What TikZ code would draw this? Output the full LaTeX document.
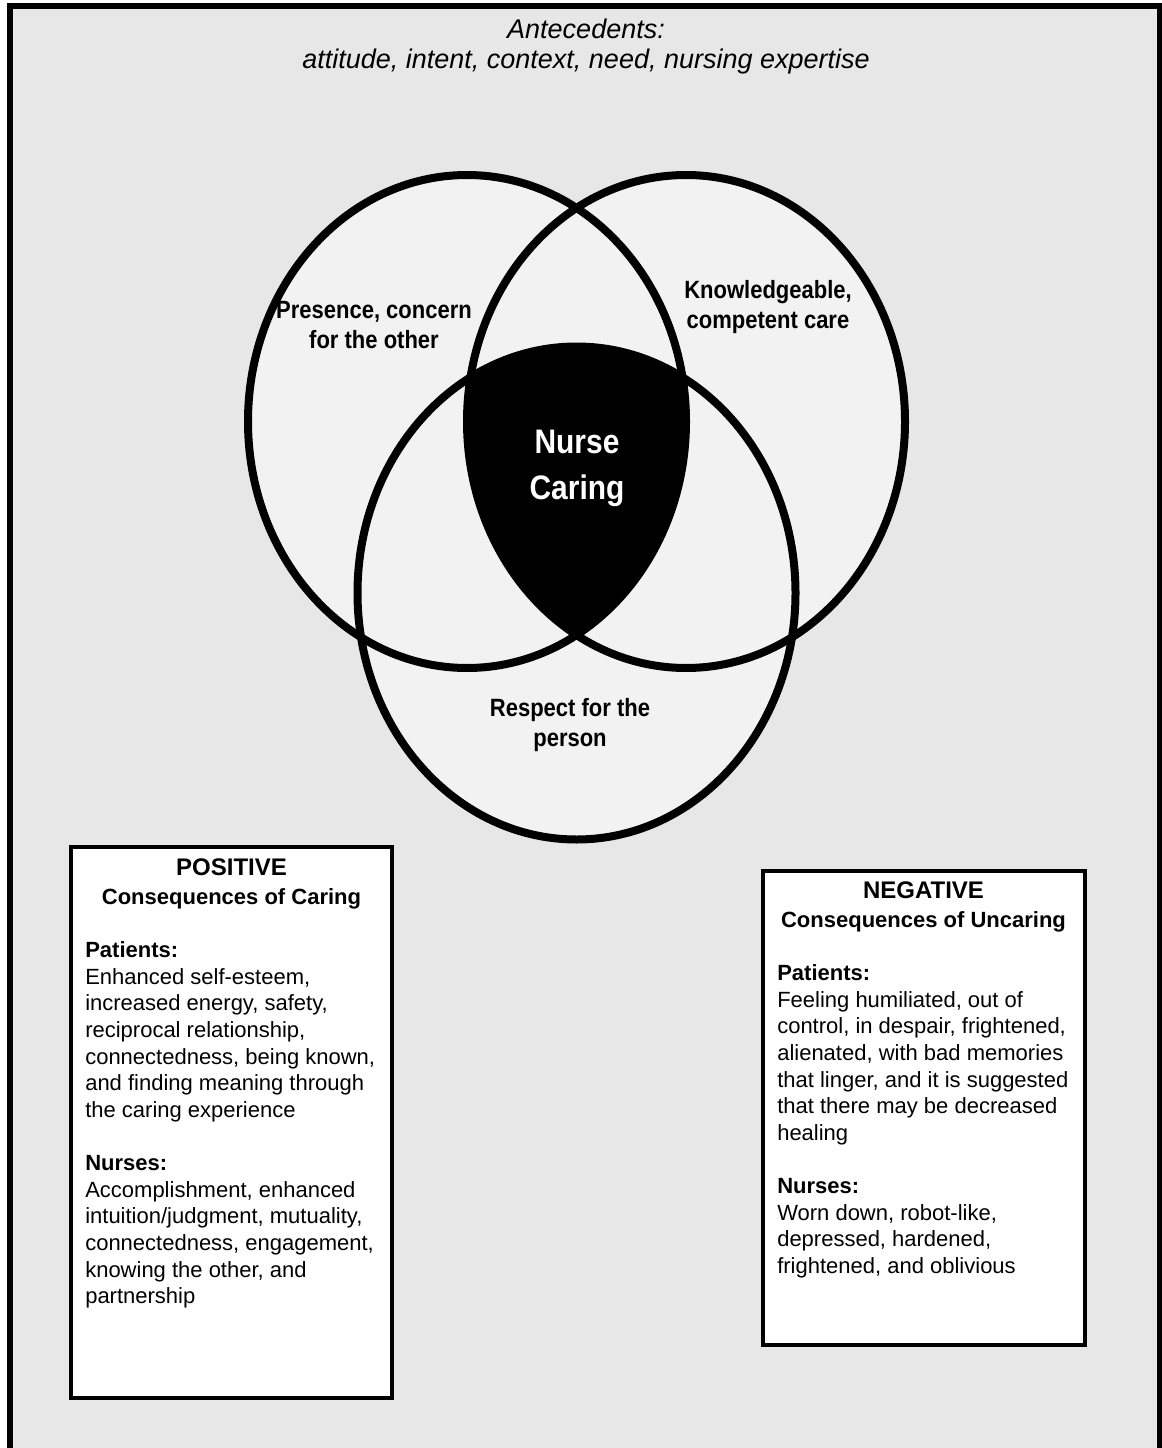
\documentclass[tikz,border=0pt]{standalone}
\usepackage{fontspec}
\setmainfont{Liberation Sans}
\newfontfamily\condfont[FakeStretch=0.88]{Liberation Sans}
\newfontfamily\nursefont[FakeStretch=0.88]{Liberation Sans}
\definecolor{bggray}{HTML}{E7E7E7}
\definecolor{circgray}{HTML}{F2F2F2}
\begin{document}
\begin{tikzpicture}[x=0.75pt,y=-0.75pt,
  vennline/.style={draw=black, line width=6pt},
  clabel/.style={font=\condfont\bfseries\fontsize{18.75pt}{22.5pt}\selectfont, anchor=base, inner sep=0pt},
  nlabel/.style={font=\nursefont\bfseries\fontsize{25.5pt}{30pt}\selectfont, text=white, anchor=base, inner sep=0pt},
  antec/.style={font=\itshape\fontsize{20.25pt}{24pt}\selectfont, anchor=base, inner sep=0pt},
  boxframe/.style={draw=black, line width=3pt, fill=white},
  headA/.style={font=\bfseries\fontsize{18pt}{21pt}\selectfont, anchor=base, inner sep=0pt},
  headB/.style={font=\bfseries\fontsize{16.5pt}{20pt}\selectfont, anchor=base, inner sep=0pt},
  bodyhead/.style={font=\bfseries\fontsize{16.5pt}{20pt}\selectfont, anchor=base west, inner sep=0pt},
  bodytext/.style={font=\fontsize{16.5pt}{20pt}\selectfont, anchor=base west, inner sep=0pt}
]
\path[use as bounding box] (0,0) rectangle (1162,1448);
\clip (0,0) rectangle (1162,1448);
\fill[white] (0,0) rectangle (1162,1448);
% outer frame
\draw[fill=bggray, draw=black, line width=4.5pt] (10,6.5) rectangle (1160,1480);

% antecedents
\node[antec] (ant1) at (586,39) {Antecedents:};
\node[antec] (ant2) at (586,69) {attitude, intent, context, need, nursing expertise};

% venn fills
\fill[circgray] (467,421.5) ellipse [x radius=164.25pt, y radius=184.875pt];
\fill[circgray] (686,421.5) ellipse [x radius=164.25pt, y radius=184.875pt];
\fill[circgray] (576.5,593) ellipse [x radius=164.25pt, y radius=184.875pt];
\begin{scope}
  \clip (467,421.5) ellipse [x radius=164.25pt, y radius=184.875pt];
  \clip (686,421.5) ellipse [x radius=164.25pt, y radius=184.875pt];
  \fill[black] (576.5,593) ellipse [x radius=164.25pt, y radius=184.875pt];
\end{scope}
\draw[vennline] (467,421.5) ellipse [x radius=164.25pt, y radius=184.875pt];
\draw[vennline] (686,421.5) ellipse [x radius=164.25pt, y radius=184.875pt];
\draw[vennline] (576.5,593) ellipse [x radius=164.25pt, y radius=184.875pt];

% circle labels
\node[clabel] (pres1) at (374,318) {Presence, concern};
\node[clabel] (pres2) at (374,348) {for the other};
\node[clabel] (know1) at (768,298) {Knowledgeable,};
\node[clabel] (know2) at (768,328) {competent care};
\node[clabel] (resp1) at (570,716) {Respect for the};
\node[clabel] (resp2) at (570,746) {person};
\node[nlabel] (nurse1) at (577,453) {Nurse};
\node[nlabel] (nurse2) at (577,499) {Caring};

% positive box
\draw[boxframe] (71,847) rectangle (392,1398);
\node[headA] (posA) at (231.5,875) {POSITIVE};
\node[headB] (posB) at (231.5,904) {Consequences of Caring};
\node[bodyhead] (posP) at (85,957) {Patients:};
\foreach \t [count=\i] in {{Enhanced self-esteem,},{increased energy, safety,},{reciprocal relationship,},{connectedness, being known,},{and finding meaning through},{the caring experience}}
  \node[bodytext] (posp\i) at (85,{984+26.7*(\i-1)}) {\t};
\node[bodyhead] (posN) at (85,1170) {Nurses:};
\foreach \t [count=\i] in {{Accomplishment, enhanced},{intuition/judgment, mutuality,},{connectedness, engagement,},{knowing the other, and},{partnership}}
  \node[bodytext] (posn\i) at (85,{1197+26.7*(\i-1)}) {\t};

% negative box
\draw[boxframe] (762.5,870.5) rectangle (1085,1345);
\node[headA] (negA) at (923.5,898) {NEGATIVE};
\node[headB] (negB) at (923.5,927) {Consequences of Uncaring};
\node[bodyhead] (negP) at (777,980) {Patients:};
\foreach \t [count=\i] in {{Feeling humiliated, out of},{control, in despair, frightened,},{alienated, with bad memories},{that linger, and it is suggested},{that there may be decreased},{healing}}
  \node[bodytext] (negp\i) at (777,{1007+26.7*(\i-1)}) {\t};
\node[bodyhead] (negN) at (777,1193) {Nurses:};
\foreach \t [count=\i] in {{Worn down, robot-like,},{depressed, hardened,},{frightened, and oblivious}}
  \node[bodytext] (negn\i) at (777,{1220+26.7*(\i-1)}) {\t};
\end{tikzpicture}
\end{document}
